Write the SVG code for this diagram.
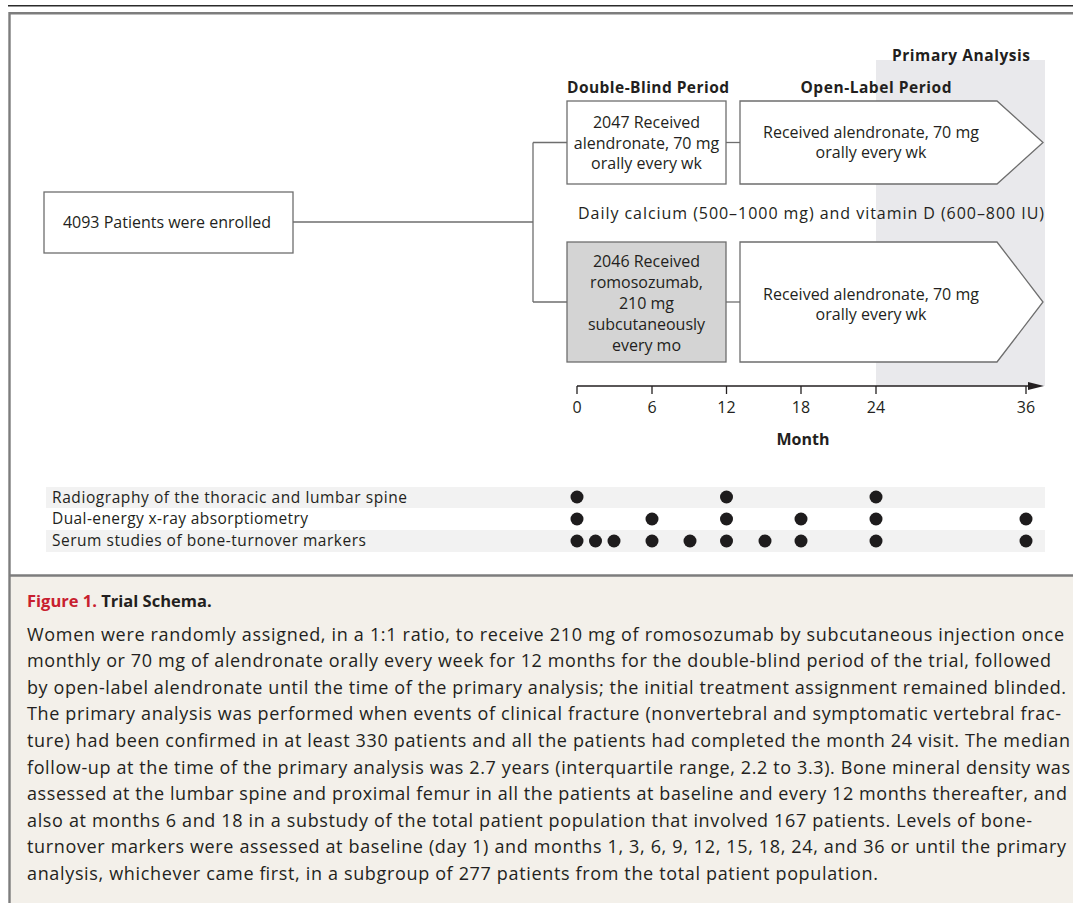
<svg xmlns="http://www.w3.org/2000/svg" width="1073" height="903" viewBox="0 0 1073 903">
<defs>
<style>
.t{font-family:"Open Sans","Noto Sans","Liberation Sans",sans-serif;fill:#231f20}
.n{font-size:16px}
.b{font-weight:bold}
.box{fill:#ffffff;stroke:#6e6e6e;stroke-width:1.3}
.gbox{fill:#d4d4d4;stroke:#6e6e6e;stroke-width:1.3}
.ln{fill:none;stroke:#6e6e6e;stroke-width:1.3}
.ax{fill:none;stroke:#231f20;stroke-width:1.3}
.dot{fill:#1e1c1d}
.cap{font-size:18px}
.band{fill:#f2f2f2}
</style>
</defs>
<rect x="0" y="0" width="1073" height="903" fill="#ffffff"/>
<rect x="9.5" y="576" width="1064" height="327" fill="#f3f0ea"/>
<line x1="8" y1="5.8" x2="1073" y2="5.8" stroke="#2b2b2b" stroke-width="1.6"/>
<polyline points="1073,13.3 9.5,13.3 9.5,903" fill="none" stroke="#7d7d7d" stroke-width="2.4"/>
<line x1="9.5" y1="575.5" x2="1073" y2="575.5" stroke="#7d7d7d" stroke-width="2.4"/>

<rect id="primary-region" x="876" y="60" width="169" height="326" fill="#e9e9ec"/>
<text class="t b" x="961" y="61" text-anchor="middle" font-size="15.5" textLength="138">Primary Analysis</text>
<text class="t b" x="648" y="93" text-anchor="middle" font-size="15.5" textLength="162">Double-Blind Period</text>
<text class="t b" x="876" y="93" text-anchor="middle" font-size="15.5" textLength="151">Open-Label Period</text>

<g id="connectors">
<line class="ln" x1="293" y1="222" x2="533" y2="222"/>
<line class="ln" x1="533" y1="142.5" x2="533" y2="302"/>
<line class="ln" x1="533" y1="142.5" x2="567" y2="142.5"/>
<line class="ln" x1="533" y1="302" x2="567" y2="302"/>
<line class="ln" x1="726" y1="142.5" x2="740" y2="142.5"/>
<line class="ln" x1="726" y1="302" x2="740" y2="302"/>
</g>

<g id="enrolled">
<rect class="box" x="44" y="192" width="249" height="61"/>
<text class="t n" x="167" y="227.5" text-anchor="middle">4093 Patients were enrolled</text>
</g>

<g id="alendronate-db">
<rect class="box" x="567" y="101" width="159" height="83"/>
<text class="t n" x="646.5" y="128" text-anchor="middle">2047 Received</text>
<text class="t n" x="646.5" y="148.5" text-anchor="middle">alendronate, 70 mg</text>
<text class="t n" x="646.5" y="169" text-anchor="middle">orally every wk</text>
</g>

<g id="romosozumab-db">
<rect class="gbox" x="567" y="242" width="159" height="120"/>
<text class="t n" x="646.5" y="266.5" text-anchor="middle">2046 Received</text>
<text class="t n" x="646.5" y="287.5" text-anchor="middle">romosozumab,</text>
<text class="t n" x="646.5" y="308.5" text-anchor="middle">210 mg</text>
<text class="t n" x="646.5" y="329.5" text-anchor="middle">subcutaneously</text>
<text class="t n" x="646.5" y="350.5" text-anchor="middle">every mo</text>
</g>

<g id="alendronate-ol-1">
<polygon class="box" points="740,101 997,101 1043,142.5 997,184 740,184"/>
<text class="t n" x="871" y="137.5" text-anchor="middle">Received alendronate, 70 mg</text>
<text class="t n" x="871" y="158" text-anchor="middle">orally every wk</text>
</g>

<g id="alendronate-ol-2">
<polygon class="box" points="740,242 997,242 1043,302 997,362 740,362"/>
<text class="t n" x="871" y="299.5" text-anchor="middle">Received alendronate, 70 mg</text>
<text class="t n" x="871" y="320" text-anchor="middle">orally every wk</text>
</g>

<text class="t n" x="811" y="218.5" text-anchor="middle" textLength="466">Daily calcium (500–1000 mg) and vitamin D (600–800 IU)</text>

<g id="axis">
<line class="ax" x1="577" y1="386" x2="1032" y2="386"/>
<polygon points="1028,382 1044,386 1028,390" fill="#231f20"/>
<line class="ax" x1="577" y1="386" x2="577" y2="394"/>
<line class="ax" x1="652" y1="386" x2="652" y2="394"/>
<line class="ax" x1="726.5" y1="386" x2="726.5" y2="394"/>
<line class="ax" x1="801" y1="386" x2="801" y2="394"/>
<line class="ax" x1="876" y1="386" x2="876" y2="394"/>
<line class="ax" x1="1026" y1="386" x2="1026" y2="394"/>
<text class="t n" x="577" y="412.5" text-anchor="middle">0</text>
<text class="t n" x="652" y="412.5" text-anchor="middle">6</text>
<text class="t n" x="726.5" y="412.5" text-anchor="middle">12</text>
<text class="t n" x="801" y="412.5" text-anchor="middle">18</text>
<text class="t n" x="876" y="412.5" text-anchor="middle">24</text>
<text class="t n" x="1026" y="412.5" text-anchor="middle">36</text>
<text class="t b" x="803" y="444.5" text-anchor="middle" font-size="16">Month</text>
</g>

<g id="schedule">
<rect class="band" x="46" y="487" width="999" height="21"/>
<rect class="band" x="46" y="530" width="999" height="22"/>
<text class="t" x="52" y="502.5" font-size="15.5" textLength="355">Radiography of the thoracic and lumbar spine</text>
<text class="t" x="52" y="524" font-size="15.5" textLength="256">Dual-energy x-ray absorptiometry</text>
<text class="t" x="52" y="546" font-size="15.5" textLength="314">Serum studies of bone-turnover markers</text>
<g class="dot">
<circle cx="577" cy="497" r="6.5"/><circle cx="726.5" cy="497" r="6.5"/><circle cx="876" cy="497" r="6.5"/>
<circle cx="577" cy="519" r="6.5"/><circle cx="652" cy="519" r="6.5"/><circle cx="726.5" cy="519" r="6.5"/><circle cx="801" cy="519" r="6.5"/><circle cx="876" cy="519" r="6.5"/><circle cx="1026" cy="519" r="6.5"/>
<circle cx="577" cy="541" r="6.5"/><circle cx="595.5" cy="541" r="6.5"/><circle cx="614" cy="541" r="6.5"/><circle cx="652" cy="541" r="6.5"/><circle cx="690" cy="541" r="6.5"/><circle cx="726.5" cy="541" r="6.5"/><circle cx="765" cy="541" r="6.5"/><circle cx="801" cy="541" r="6.5"/><circle cx="876" cy="541" r="6.5"/><circle cx="1026" cy="541" r="6.5"/>
</g>
</g>

<g id="caption">
<text class="t b" x="27" y="607" font-size="16.5"><tspan fill="#c8202f">Figure 1.</tspan> Trial Schema.</text>
<text class="t cap" x="27" y="640.5" textLength="1037">Women were randomly assigned, in a 1:1 ratio, to receive 210 mg of romosozumab by subcutaneous injection once</text>
<text class="t cap" x="27" y="667.1" textLength="1024">monthly or 70 mg of alendronate orally every week for 12 months for the double-blind period of the trial, followed</text>
<text class="t cap" x="27" y="693.7" textLength="1039">by open-label alendronate until the time of the primary analysis; the initial treatment assignment remained blinded.</text>
<text class="t cap" x="27" y="720.3" textLength="1034">The primary analysis was performed when events of clinical fracture (nonvertebral and symptomatic vertebral frac-</text>
<text class="t cap" x="27" y="746.9" textLength="1043">ture) had been confirmed in at least 330 patients and all the patients had completed the month 24 visit. The median</text>
<text class="t cap" x="27" y="773.5" textLength="1043">follow-up at the time of the primary analysis was 2.7 years (interquartile range, 2.2 to 3.3). Bone mineral density was</text>
<text class="t cap" x="27" y="800.1" textLength="1040">assessed at the lumbar spine and proximal femur in all the patients at baseline and every 12 months thereafter, and</text>
<text class="t cap" x="27" y="826.7" textLength="1005">also at months 6 and 18 in a substudy of the total patient population that involved 167 patients. Levels of bone-</text>
<text class="t cap" x="27" y="853.3" textLength="1039">turnover markers were assessed at baseline (day 1) and months 1, 3, 6, 9, 12, 15, 18, 24, and 36 or until the primary</text>
<text class="t cap" x="27" y="879.9" textLength="851">analysis, whichever came first, in a subgroup of 277 patients from the total patient population.</text>
</g>
</svg>
